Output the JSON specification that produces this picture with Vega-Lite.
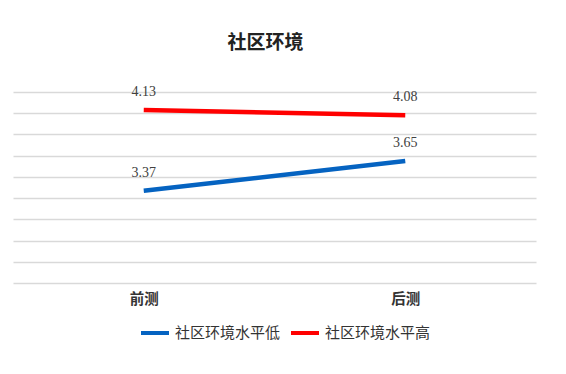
{
  "$schema": "https://vega.github.io/schema/vega-lite/v6.json",
  "width": 523,
  "height": 191,
  "autosize": "none",
  "padding": {"left": 13, "top": 92, "right": 30, "bottom": 91},
  "background": "white",
  "title": {
    "text": "社区环境",
    "font": "Noto Sans CJK SC",
    "fontSize": 19,
    "fontWeight": "bold",
    "color": "#222222",
    "anchor": "middle",
    "offset": 32,
    "dx": -9
  },
  "data": {
    "values": [
      {"time": "前测", "group": "社区环境水平低", "score": 3.37},
      {"time": "后测", "group": "社区环境水平低", "score": 3.65},
      {"time": "前测", "group": "社区环境水平高", "score": 4.13},
      {"time": "后测", "group": "社区环境水平高", "score": 4.08}
    ]
  },
  "encoding": {
    "x": {
      "field": "time",
      "type": "nominal",
      "sort": ["前测", "后测"],
      "scale": {"type": "point", "padding": 0.5},
      "axis": {
        "title": null,
        "domain": false,
        "ticks": false,
        "labelAngle": 0,
        "labelFont": "Noto Sans CJK SC",
        "labelFontSize": 14.5,
        "labelFontWeight": "bold",
        "labelColor": "#333333",
        "labelPadding": 9
      }
    },
    "y": {
      "field": "score",
      "type": "quantitative",
      "scale": {"domain": [2.5, 4.3], "nice": false, "zero": false},
      "axis": {
        "title": null,
        "values": [2.5, 2.7, 2.9, 3.1, 3.3, 3.5, 3.7, 3.9, 4.1, 4.3],
        "labels": false,
        "domain": false,
        "ticks": false,
        "gridColor": "#d9d9d9",
        "gridWidth": 1.3
      }
    },
    "color": {
      "field": "group",
      "type": "nominal",
      "scale": {"domain": ["社区环境水平低", "社区环境水平高"], "range": ["#0563C1", "#FF0000"]},
      "legend": {
        "title": null,
        "orient": "none",
        "legendX": 126,
        "legendY": 225,
        "direction": "horizontal",
        "symbolType": "stroke",
        "symbolStrokeWidth": 4,
        "symbolSize": 784,
        "labelFont": "Noto Sans CJK SC",
        "labelFontSize": 15,
        "labelColor": "#333333",
        "labelOffset": 4,
        "columnPadding": 2
      }
    }
  },
  "layer": [
    {"mark": {"type": "line", "strokeWidth": 4.5, "strokeCap": "butt"}},
    {
      "mark": {"type": "text", "dy": -18, "font": "Liberation Serif", "fontSize": 14},
      "encoding": {
        "text": {"field": "score", "type": "quantitative", "format": ".2f"},
        "color": {"value": "#404040"}
      }
    }
  ],
  "config": {"view": {"stroke": null}}
}
